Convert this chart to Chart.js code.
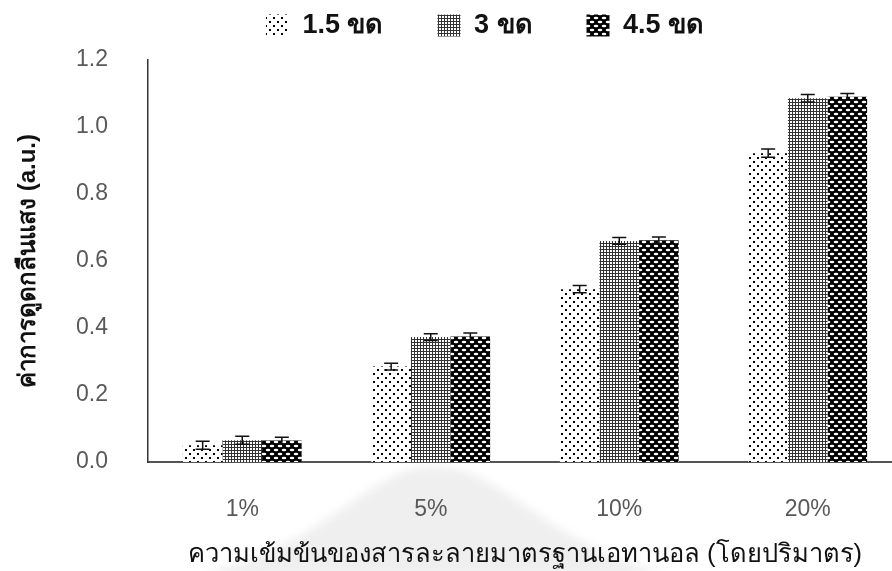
<!DOCTYPE html>
<html lang="th">
<head>
<meta charset="utf-8">
<script src="https://cdn.jsdelivr.net/npm/chart.js@4.4.1/dist/chart.umd.min.js"></script>
<style>
  html, body { margin: 0; padding: 0; background: #fff; overflow: hidden; }
  #wrap { position: relative; width: 892px; height: 571px; overflow: hidden; }
  #wrap canvas { position: absolute; left: 0; top: 0; }
</style>
</head>
<body>
<div id="wrap"><canvas id="chart" width="970" height="571"></canvas></div>
<script>
// absorbance readings per ethanol standard, three coil lengths
const categories = ['1%', '5%', '10%', '20%'];
const seriesNames = ['1.5 ขด', '3 ขด', '4.5 ขด'];
const coil15 = [0.050, 0.285, 0.516, 0.922];
const coil30 = [0.065, 0.373, 0.660, 1.086];
const coil45 = [0.064, 0.375, 0.662, 1.090];
const coil15Err = [0.012, 0.010, 0.011, 0.012];
const coil30Err = [0.012, 0.010, 0.010, 0.011];
const coil45Err = [0.010, 0.010, 0.010, 0.010];
const yTicks = [0, 0.2, 0.4, 0.6, 0.8, 1.0, 1.2];

const FONT = "'Liberation Sans', Arial, 'Noto Sans', sans-serif";

function makeTile(w, h, draw) {
    const c = document.createElement('canvas');
    c.width = w; c.height = h;
    draw(c.getContext('2d'));
    return document.getElementById('chart').getContext('2d').createPattern(c, 'repeat');
}

// sparse staggered dots
const dotsLight = makeTile(8, 8, g => {
    g.fillStyle = '#fff'; g.fillRect(0, 0, 8, 8);
    g.fillStyle = '#000';
    g.fillRect(1, 1, 2, 2);
    g.fillRect(5, 5, 2, 2);
});
// fine grey mesh
const meshGrey = makeTile(3, 3, g => {
    g.fillStyle = '#333'; g.fillRect(0, 0, 3, 3);
    g.fillStyle = '#fff';
    g.fillRect(1, 1, 2, 2);
});
// black with white oval holes
const ovalsDark = makeTile(8, 8, g => {
    g.fillStyle = '#000'; g.fillRect(0, 0, 8, 8);
    g.fillStyle = '#fff';
    const oval = (x, y) => { g.beginPath(); g.ellipse(x, y, 2.3, 1.2, 0, 0, Math.PI * 2); g.fill(); };
    oval(4, 2); oval(0, 6); oval(8, 6);
});

const errorBars = {
    id: 'errorBars',
    afterDatasetsDraw(chart) {
        const ctx = chart.ctx;
        const y = chart.scales.y;
        ctx.save();
        ctx.strokeStyle = '#111';
        ctx.lineWidth = 1.5;
        chart.data.datasets.forEach((ds, i) => {
            chart.getDatasetMeta(i).data.forEach((bar, j) => {
                const v = ds.data[j], e = ds.errors[j];
                const top = y.getPixelForValue(v + e);
                const bot = y.getPixelForValue(v - e);
                const x = bar.x;
                ctx.beginPath();
                ctx.moveTo(x, top); ctx.lineTo(x, bot);
                ctx.moveTo(x - 7, top); ctx.lineTo(x + 7, top);
                ctx.moveTo(x - 7, bot); ctx.lineTo(x + 7, bot);
                ctx.stroke();
            });
        });
        ctx.restore();
    }
};

// faint grey mound behind the axis labels
const backdrop = {
    id: 'backdrop',
    beforeDraw(chart) {
        const ctx = chart.ctx;
        ctx.save();
        ctx.filter = 'blur(5px)';
        ctx.fillStyle = '#efefef';
        ctx.beginPath();
        ctx.moveTo(200, 575);
        ctx.bezierCurveTo(330, 545, 370, 466, 435, 466);
        ctx.bezierCurveTo(500, 466, 545, 545, 670, 575);
        ctx.closePath();
        ctx.fill();
        ctx.restore();
    }
};

// move the legend row into place without changing the plot area
// (only the top edge moves up, so the legend clip box still holds the row)
const legendShift = {
    id: 'legendShift',
    afterLayout(chart) {
        const lg = chart.legend;
        if (!lg) return;
        lg.left += 34;
        lg.right += 34;
        lg.top -= 42;
    }
};

new Chart(document.getElementById('chart'), {
    type: 'bar',
    data: {
        labels: categories,
        datasets: [
            { label: seriesNames[0], data: coil15, errors: coil15Err, backgroundColor: dotsLight },
            { label: seriesNames[1], data: coil30, errors: coil30Err, backgroundColor: meshGrey },
            { label: seriesNames[2], data: coil45, errors: coil45Err, backgroundColor: ovalsDark }
        ]
    },
    options: {
        responsive: false,
        animation: false,
        layout: { padding: { left: 0, right: 68, top: 0, bottom: 0 } },
        datasets: { bar: { barPercentage: 1.0, categoryPercentage: 0.63, borderWidth: 0 } },
        plugins: {
            tooltip: { enabled: false },
            legend: {
                position: 'top',
                maxHeight: 60,
                labels: {
                    boxWidth: 23,
                    boxHeight: 22,
                    padding: 54,
                    color: '#111',
                    font: { family: FONT, size: 27, weight: 'bold' }
                }
            }
        },
        scales: {
            x: {
                afterFit: axis => { axis.height = 109; },
                grid: { display: false, drawTicks: false },
                border: { display: true, color: '#555', width: 2 },
                ticks: { color: '#595959', padding: 34, font: { family: FONT, size: 23 } },
                title: {
                    display: true,
                    text: 'ความเข้มข้นของสารละลายมาตรฐานเอทานอล (โดยปริมาตร)',
                    color: '#111',
                    padding: { top: 10, bottom: 1 },
                    font: { family: FONT, size: 25.5 }
                }
            },
            y: {
                min: 0,
                max: 1.2,
                afterBuildTicks: axis => { axis.ticks = yTicks.map(v => ({ value: v })); },
                afterFit: axis => { axis.width = 148; },
                grid: { display: false, drawTicks: false },
                border: { display: true, color: '#333', width: 1.5 },
                ticks: {
                    color: '#595959',
                    padding: 40,
                    font: { family: FONT, size: 23 },
                    callback: v => Number(v).toFixed(1)
                },
                title: {
                    display: true,
                    text: 'ค่าการดูดกลืนแสง (a.u.)',
                    color: '#111',
                    padding: { top: 14, bottom: 0 },
                    font: { family: FONT, size: 24, weight: 'bold' }
                }
            }
        }
    },
    plugins: [backdrop, errorBars, legendShift]
});
</script>
</body>
</html>
